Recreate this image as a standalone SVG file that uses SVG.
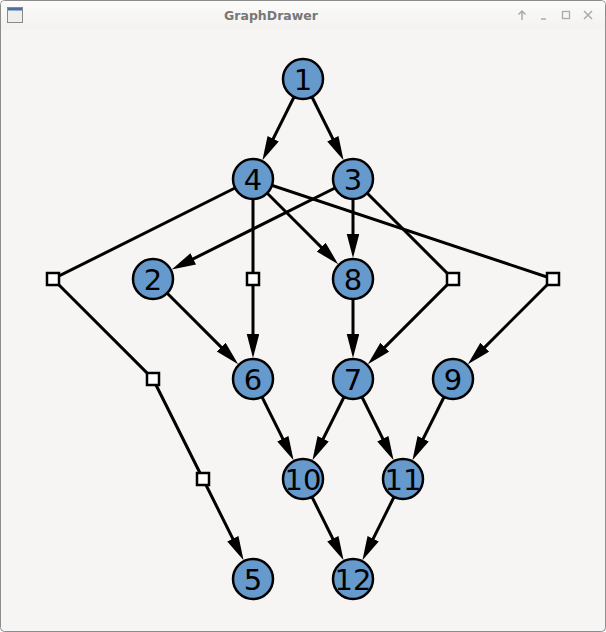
<svg xmlns="http://www.w3.org/2000/svg" width="606" height="632" viewBox="0 0 606 632">
<style>
.edge{stroke:#000;stroke-width:3;fill:none}
.arr{marker-end:url(#ah)}
.node circle{fill:#6699cc;stroke:#000;stroke-width:2.5}
.node text{font-family:"DejaVu Sans",sans-serif;font-size:29px;fill:#000;text-anchor:middle}
.dummy rect{fill:#fff;stroke:#000;stroke-width:2.5}
</style>
<defs>
<marker id="ah" markerUnits="userSpaceOnUse" markerWidth="26" markerHeight="14" refX="14" refY="6.25" orient="auto">
<path d="M0,0 L24,6.25 L0,12.5 z" fill="#000"/>
</marker>
<linearGradient id="tb" x1="0" y1="0" x2="0" y2="1"><stop offset="0" stop-color="#fbfbfa"/><stop offset="1" stop-color="#f3f2f1"/></linearGradient>
</defs>
<rect x="0.5" y="0.5" width="605" height="631" rx="4" fill="#f6f5f4" stroke="#8c8c8c"/>
<rect x="1" y="1" width="604" height="28" rx="4" fill="url(#tb)"/>
<g id="titlebar">
<rect x="7.5" y="7.5" width="15" height="15" fill="#eeeeec" stroke="#8a8a8a"/>
<rect x="8" y="8" width="14" height="2.5" fill="#4a6fa5"/>
<text x="271" y="20" font-family="DejaVu Sans, sans-serif" font-size="12.5" font-weight="bold" fill="#777" text-anchor="middle">GraphDrawer</text>
<path d="M522,20 V11 M518.5,14.5 L522,11 L525.5,14.5" stroke="#aaa" stroke-width="1.5" fill="none"/>
<path d="M541,19 H546" stroke="#aaa" stroke-width="1.5"/>
<rect x="562.5" y="11.5" width="7" height="7" fill="none" stroke="#aaa" stroke-width="1.3"/>
<path d="M584,11 L592,19 M592,11 L584,19" stroke="#aaa" stroke-width="1.5"/>
</g>
<g id="edges">
<line class="edge arr" x1="303" y1="79" x2="266.9" y2="151.3"/>
<line class="edge arr" x1="303" y1="79" x2="339.1" y2="151.3"/>
<polyline class="edge arr" points="253,179 53,279 153,379 203,479 239.1,551.3"/>
<polyline class="edge arr" points="253,179 253,279 253,348"/>
<line class="edge arr" x1="253" y1="179" x2="331.1" y2="257.1"/>
<polyline class="edge arr" points="253,179 553,279 474.9,357.1"/>
<line class="edge arr" x1="353" y1="179" x2="180.7" y2="265.1"/>
<line class="edge arr" x1="353" y1="179" x2="353" y2="248"/>
<polyline class="edge arr" points="353,179 453,279 374.9,357.1"/>
<line class="edge arr" x1="153" y1="279" x2="231.1" y2="357.1"/>
<line class="edge arr" x1="353" y1="279" x2="353" y2="348"/>
<line class="edge arr" x1="253" y1="379" x2="289.1" y2="451.3"/>
<line class="edge arr" x1="353" y1="379" x2="316.9" y2="451.3"/>
<line class="edge arr" x1="353" y1="379" x2="389.1" y2="451.3"/>
<line class="edge arr" x1="453" y1="379" x2="416.9" y2="451.3"/>
<line class="edge arr" x1="303" y1="479" x2="339.1" y2="551.3"/>
<line class="edge arr" x1="403" y1="479" x2="366.9" y2="551.3"/>
</g>
<g id="d1" class="dummy"><rect x="47" y="273" width="12" height="12"/></g>
<g id="d2" class="dummy"><rect x="147" y="373" width="12" height="12"/></g>
<g id="d3" class="dummy"><rect x="197" y="473" width="12" height="12"/></g>
<g id="d4" class="dummy"><rect x="247" y="273" width="12" height="12"/></g>
<g id="d5" class="dummy"><rect x="447" y="273" width="12" height="12"/></g>
<g id="d6" class="dummy"><rect x="547" y="273" width="12" height="12"/></g>
<g id="n1" class="node"><circle cx="303" cy="79" r="20"/><text x="303" y="89.5">1</text></g>
<g id="n4" class="node"><circle cx="253" cy="179" r="20"/><text x="253" y="189.5">4</text></g>
<g id="n3" class="node"><circle cx="353" cy="179" r="20"/><text x="353" y="189.5">3</text></g>
<g id="n2" class="node"><circle cx="153" cy="279" r="20"/><text x="153" y="289.5">2</text></g>
<g id="n8" class="node"><circle cx="353" cy="279" r="20"/><text x="353" y="289.5">8</text></g>
<g id="n6" class="node"><circle cx="253" cy="379" r="20"/><text x="253" y="389.5">6</text></g>
<g id="n7" class="node"><circle cx="353" cy="379" r="20"/><text x="353" y="389.5">7</text></g>
<g id="n9" class="node"><circle cx="453" cy="379" r="20"/><text x="453" y="389.5">9</text></g>
<g id="n10" class="node"><circle cx="303" cy="479" r="20"/><text x="303" y="489.5">10</text></g>
<g id="n11" class="node"><circle cx="403" cy="479" r="20"/><text x="403" y="489.5">11</text></g>
<g id="n5" class="node"><circle cx="253" cy="579" r="20"/><text x="253" y="589.5">5</text></g>
<g id="n12" class="node"><circle cx="353" cy="579" r="20"/><text x="353" y="589.5">12</text></g>
</svg>
